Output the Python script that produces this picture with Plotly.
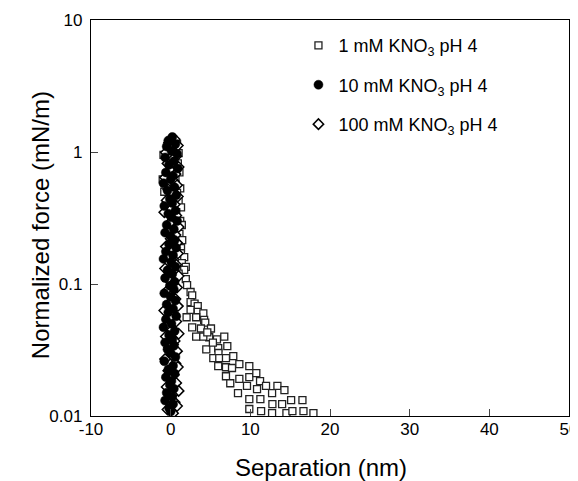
import plotly.graph_objects as go

# ---- data ----
sq_x = [-0.9, -1.0, -0.8, 0.3, 0.8, 0.2, 1.0, 0.5, 0.9, 0.1, 1.1, 0.6, 0.4, 1.2, 0.8, 0.2, 1.0, 1.3,
        0.7, 0.5, 1.2, 1.4, 0.9, 1.1, 1.45, 0.7, 1.3,
        1.28, 1.7, 1.4, 1.9, 1.7, 1.0, 1.9, 2.06, 2.5, 2.7, 2.5, 3.0, 3.4, 2.5, 3.4, 4.1, 2.0, 3.2,
        4.2, 4.34, 2.7, 3.8, 5.06, 4.84, 3.2, 4.1, 5.81, 6.73, 7.11, 5.97, 4.47, 4.6, 5.3, 6.0,
        5.35, 6.10, 6.94, 7.86, 5.97, 6.94, 7.70, 8.62, 9.87, 6.94, 7.48, 8.62, 9.87, 10.75,
        9.58, 11.22, 11.97, 13.40, 14.28, 10.84, 8.45, 12.73, 9.87, 11.26, 12.77, 13.99, 15.12,
        16.54, 9.87, 11.35, 12.73, 14.53, 15.28, 16.67, 17.92]
sq_f = [0.95, 0.62, 0.5, 1.25, 1.15, 1.05, 0.98, 0.9, 0.82, 0.76, 0.7, 0.64, 0.58, 0.53, 0.49, 0.45, 0.42, 0.38,
        0.35, 0.32, 0.3, 0.28, 0.26, 0.24, 0.215, 0.2, 0.187,
        0.171, 0.16, 0.144, 0.135, 0.128, 0.12, 0.109, 0.098, 0.087, 0.082, 0.073, 0.071, 0.068, 0.0636, 0.0615, 0.060, 0.056, 0.056,
        0.0535, 0.051, 0.047, 0.046, 0.046, 0.0395, 0.040, 0.040, 0.038, 0.040, 0.0338, 0.0327, 0.032, 0.043, 0.036, 0.030,
        0.0274, 0.0274, 0.0274, 0.0284, 0.0239, 0.0234, 0.0231, 0.0247, 0.0239, 0.020, 0.0177, 0.0191, 0.0197, 0.0211,
        0.0169, 0.0184, 0.0169, 0.0169, 0.0157, 0.016, 0.0149, 0.0149, 0.0134, 0.0134, 0.0123, 0.0123, 0.0132,
        0.0132, 0.0113, 0.0109, 0.0105, 0.0105, 0.0109, 0.0109, 0.0105]

ci_x = [0.2, -0.3, 0.6, -0.5, 0.1, 0.8, -0.7, 0.4, -0.2, 0.9,
        -0.6, 0.3, 0.0, -0.9, 0.5, -0.4, 0.7, -0.1, 0.2, -0.8,
        0.6, -0.3, 0.1, 0.8, -0.5, 0.4, -0.7, 0.0, 0.5, -0.2,
        0.7, -0.6, 0.3, -0.9, 0.1, 0.6, -0.4, 0.2, -0.7, 0.5,
        -0.1, 0.4, -0.8, 0.0, 0.6, -0.5, 0.3, -0.3, 0.7, -0.6,
        0.1, -0.9, 0.5, -0.2, 0.2, -0.7, 0.4, -0.4, 0.0, 0.6,
        -0.8, 0.3, -0.3, 0.5, -0.6, 0.1, -0.1, 0.4, -0.5, 0.2,
        -0.7, 0.3, -0.2, 0.0]
ci_f = [1.30, 1.22, 1.15, 1.10, 1.02, 0.97, 0.91, 0.85, 0.80, 0.75,
        0.70, 0.66, 0.62, 0.58, 0.54, 0.51, 0.47, 0.44, 0.41, 0.39,
        0.36, 0.34, 0.32, 0.30, 0.28, 0.26, 0.245, 0.23, 0.215, 0.20,
        0.188, 0.176, 0.165, 0.155, 0.145, 0.135, 0.127, 0.119, 0.111, 0.104,
        0.097, 0.091, 0.085, 0.080, 0.075, 0.070, 0.065, 0.061, 0.057, 0.054,
        0.050, 0.047, 0.044, 0.041, 0.038, 0.036, 0.034, 0.032, 0.030, 0.028,
        0.026, 0.024, 0.0225, 0.021, 0.0197, 0.0184, 0.0172, 0.0161, 0.015, 0.014,
        0.0131, 0.0123, 0.0115, 0.0108]

di_x = [0.5, -0.2, 0.9, 0.1, -0.6, 0.7, 0.3, -0.4, 1.0, 0.0,
        0.6, -0.7, 0.4, 0.8, -0.3, 0.2, 0.9, -0.5, 0.5, 0.1,
        -0.8, 0.7, 0.3, -0.1, 1.0, -0.4, 0.6, 0.0, 0.8, -0.6,
        0.4, 0.9, -0.2, 0.2, 0.7, -0.7, 0.5, 1.0, -0.3, 0.3,
        0.8, -0.5, 0.1, 0.6, -0.1, 0.9, -0.8, 0.4, 0.0, 0.7,
        -0.4, 0.2, 1.0, -0.6, 0.5, 0.3, -0.2, 0.8, 0.1, -0.7,
        0.6, 0.9, -0.3, 0.4, 0.0, 0.7, -0.5, 1.0, 0.2, -0.1,
        0.5, 0.8, -0.4, 0.3]
di_f = [1.25, 1.18, 1.12, 1.05, 0.99, 0.93, 0.88, 0.82, 0.77, 0.72,
        0.68, 0.64, 0.60, 0.56, 0.52, 0.49, 0.46, 0.43, 0.40, 0.37,
        0.35, 0.33, 0.31, 0.29, 0.27, 0.25, 0.235, 0.22, 0.205, 0.192,
        0.18, 0.17, 0.16, 0.15, 0.14, 0.131, 0.123, 0.115, 0.108, 0.10,
        0.094, 0.088, 0.082, 0.077, 0.072, 0.068, 0.063, 0.059, 0.055, 0.052,
        0.048, 0.045, 0.042, 0.040, 0.037, 0.035, 0.033, 0.031, 0.029, 0.027,
        0.025, 0.0235, 0.022, 0.0205, 0.019, 0.0178, 0.0166, 0.0155, 0.0145, 0.0136,
        0.0127, 0.0119, 0.0112, 0.0105]

series_names = ["1 mM KNO<sub>3</sub> pH 4", "10 mM KNO<sub>3</sub> pH 4", "100 mM KNO<sub>3</sub> pH 4"]
x_ticks = [-10, 0, 10, 20, 30, 40, 50]
x_tick_labels = ["-10", "0", "10", "20", "30", "40", "50"]
y_ticks = [0.01, 0.1, 1, 10]
y_tick_labels = ["0.01", "0.1", "1", "10"]
x_title = "Separation (nm)"
y_title = "Normalized force (mN/m)"

FONT = "Liberation Sans, Arial, sans-serif"

fig = go.Figure()
fig.add_trace(go.Scatter(x=sq_x, y=sq_f, mode="markers", name=series_names[0], legendgroup="a",
                         legendrank=1,
                         marker=dict(symbol="square", size=7, color="white",
                                     line=dict(color="#222222", width=1.3))))
fig.add_trace(go.Scatter(x=di_x, y=di_f, mode="markers", name=series_names[2], legendgroup="c",
                         legendrank=3,
                         marker=dict(symbol="diamond", size=8, color="white",
                                     line=dict(color="black", width=1.5))))
fig.add_trace(go.Scatter(x=ci_x, y=ci_f, mode="markers", name=series_names[1], legendgroup="b",
                         legendrank=2,
                         marker=dict(symbol="circle", size=9, color="black",
                                     line=dict(color="black", width=0.5))))

fig.update_layout(
    width=570, height=481,
    margin=dict(l=83, r=9, t=12, b=73, autoexpand=False),
    paper_bgcolor="white", plot_bgcolor="white",
    font=dict(family=FONT, size=17, color="black"),
    showlegend=True,
    legend=dict(x=0.434, y=0.982, xanchor="left", yanchor="top",
                bgcolor="rgba(0,0,0,0)", borderwidth=0,
                font=dict(size=18), tracegroupgap=13, itemsizing="trace"),
    annotations=[
        dict(text=x_title, xref="paper", yref="paper", x=0.481, y=-0.131,
             xanchor="center", yanchor="middle", showarrow=False, font=dict(size=24)),
        dict(text=y_title, xref="paper", yref="paper", x=-0.1067, y=0.482,
             xanchor="center", yanchor="middle", showarrow=False, textangle=-90,
             font=dict(size=24)),
    ],
)
fig.update_xaxes(range=[-10, 50], tickvals=x_ticks, ticktext=x_tick_labels,
                 ticks="inside", ticklen=7, ticklabelstandoff=-3, ticklabeloverflow="allow",
                 showline=True, linecolor="black", linewidth=1.3, mirror=True,
                 showgrid=False, zeroline=False, tickfont=dict(size=17))
fig.update_yaxes(type="log", range=[-2, 1], tickvals=y_ticks, ticktext=y_tick_labels,
                 ticks="inside", ticklen=7, ticklabelstandoff=4, ticklabeloverflow="allow",
                 showline=True, linecolor="black", linewidth=1.3, mirror=True,
                 showgrid=False, zeroline=False, tickfont=dict(size=17))

fig.write_html("out.html")
